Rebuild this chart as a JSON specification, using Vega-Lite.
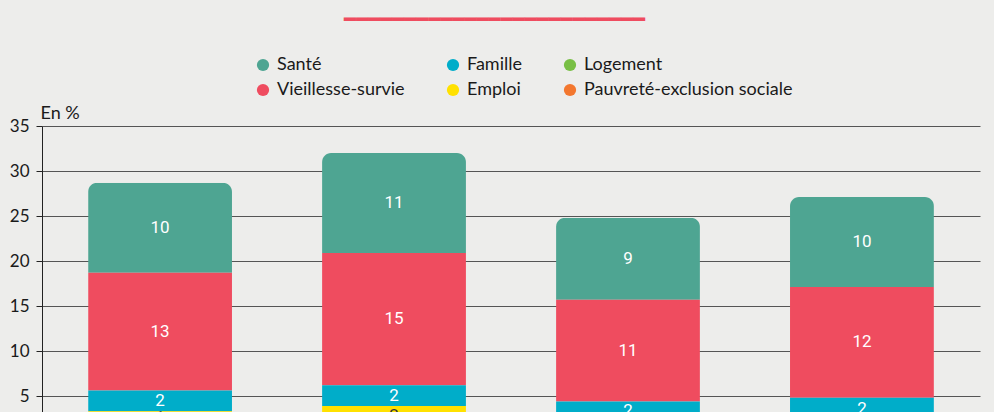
{
  "$schema": "https://vega.github.io/schema/vega-lite/v6.json",
  "autosize": "none",
  "width": 938,
  "height": 315,
  "padding": {"left": 42, "top": 126, "right": 14, "bottom": 40},
  "background": "#ededeb",
  "config": {
    "view": {"stroke": null},
    "font": "Lato"
  },
  "title": {
    "text": "━━━━━━━━━━━━━━━━━━━━━━━━━",
    "font": "DejaVu Sans",
    "fontSize": 20,
    "color": "#ef4c5f",
    "anchor": "middle",
    "frame": "bounds",
    "offset": 26
  },
  "data": {
    "values": [
      {"pays": "A", "categorie": "Santé", "rang": 6, "valeur": 10.0},
      {"pays": "A", "categorie": "Vieillesse-survie", "rang": 5, "valeur": 13.1},
      {"pays": "A", "categorie": "Famille", "rang": 4, "valeur": 2.3},
      {"pays": "A", "categorie": "Emploi", "rang": 3, "valeur": 1.4},
      {"pays": "A", "categorie": "Pauvreté-exclusion sociale", "rang": 2, "valeur": 1.3},
      {"pays": "A", "categorie": "Logement", "rang": 1, "valeur": 0.6},
      {"pays": "B", "categorie": "Santé", "rang": 6, "valeur": 11.1},
      {"pays": "B", "categorie": "Vieillesse-survie", "rang": 5, "valeur": 14.7},
      {"pays": "B", "categorie": "Famille", "rang": 4, "valeur": 2.3},
      {"pays": "B", "categorie": "Emploi", "rang": 3, "valeur": 2.2},
      {"pays": "B", "categorie": "Pauvreté-exclusion sociale", "rang": 2, "valeur": 0.9},
      {"pays": "B", "categorie": "Logement", "rang": 1, "valeur": 0.8},
      {"pays": "C", "categorie": "Santé", "rang": 6, "valeur": 9.1},
      {"pays": "C", "categorie": "Vieillesse-survie", "rang": 5, "valeur": 11.3},
      {"pays": "C", "categorie": "Famille", "rang": 4, "valeur": 2.2},
      {"pays": "C", "categorie": "Emploi", "rang": 3, "valeur": 0.9},
      {"pays": "C", "categorie": "Pauvreté-exclusion sociale", "rang": 2, "valeur": 0.8},
      {"pays": "C", "categorie": "Logement", "rang": 1, "valeur": 0.5},
      {"pays": "D", "categorie": "Santé", "rang": 6, "valeur": 10.0},
      {"pays": "D", "categorie": "Vieillesse-survie", "rang": 5, "valeur": 12.3},
      {"pays": "D", "categorie": "Famille", "rang": 4, "valeur": 2.4},
      {"pays": "D", "categorie": "Emploi", "rang": 3, "valeur": 1.2},
      {"pays": "D", "categorie": "Pauvreté-exclusion sociale", "rang": 2, "valeur": 0.7},
      {"pays": "D", "categorie": "Logement", "rang": 1, "valeur": 0.5}
    ]
  },
  "encoding": {
    "x": {
      "field": "pays",
      "type": "nominal",
      "scale": {"paddingInner": 0.385, "paddingOuter": 0.197},
      "axis": {"title": null, "labelAngle": 0, "domain": false, "ticks": false, "labelFontSize": 16}
    }
  },
  "layer": [
    {
      "mark": {"type": "bar", "cornerRadiusEnd": 9},
      "encoding": {
        "y": {
          "field": "valeur",
          "type": "quantitative",
          "stack": "zero",
          "scale": {"domain": [0, 35], "nice": false},
          "axis": {
            "values": [0, 5, 10, 15, 20, 25, 30, 35],
            "title": "En %",
            "titleAngle": 0,
            "titleAlign": "left",
            "titleBaseline": "alphabetic",
            "titleX": -2,
            "titleY": -8,
            "titleFontSize": 18,
            "titleFontWeight": "normal",
            "titleColor": "#1a1a1a",
            "labelFontSize": 17,
            "labelColor": "#1a1a1a",
            "labelPadding": 7,
            "tickSize": 6,
            "tickColor": "#222222",
            "domainColor": "#222222",
            "grid": true,
            "gridColor": "#555555",
            "gridWidth": 1.2
          }
        },
        "color": {
          "field": "categorie",
          "type": "nominal",
          "scale": {
            "domain": ["Santé", "Vieillesse-survie", "Famille", "Emploi", "Logement", "Pauvreté-exclusion sociale"],
            "range": ["#4ea592", "#ef4c5f", "#00adc9", "#ffe100", "#78bf44", "#f3772e"]
          },
          "legend": {
            "title": null,
            "orient": "none",
            "legendX": 212,
            "legendY": -70,
            "columns": 3,
            "symbolType": "circle",
            "symbolSize": 150,
            "symbolStrokeWidth": 0,
            "labelFontSize": 18,
            "labelColor": "#1a1a1a",
            "labelOffset": 5,
            "labelLimit": 400,
            "columnPadding": 39,
            "rowPadding": 7
          }
        },
        "order": {"field": "rang", "type": "quantitative", "sort": "ascending"}
      }
    },
    {
      "transform": [
        {"stack": "valeur", "groupby": ["pays"], "sort": [{"field": "rang", "order": "ascending"}], "as": ["y0", "y1"]},
        {"calculate": "(datum.y0 + datum.y1) / 2", "as": "milieu"},
        {"filter": "datum.valeur >= 1"}
      ],
      "mark": {"type": "text", "fontSize": 17, "baseline": "middle", "font": "Roboto"},
      "encoding": {
        "y": {"field": "milieu", "type": "quantitative"},
        "text": {"field": "valeur", "type": "quantitative", "format": ".0f"},
        "color": {
          "condition": {"test": "datum.categorie === 'Emploi'", "value": "#333333"},
          "value": "#ffffff"
        }
      }
    }
  ]
}
